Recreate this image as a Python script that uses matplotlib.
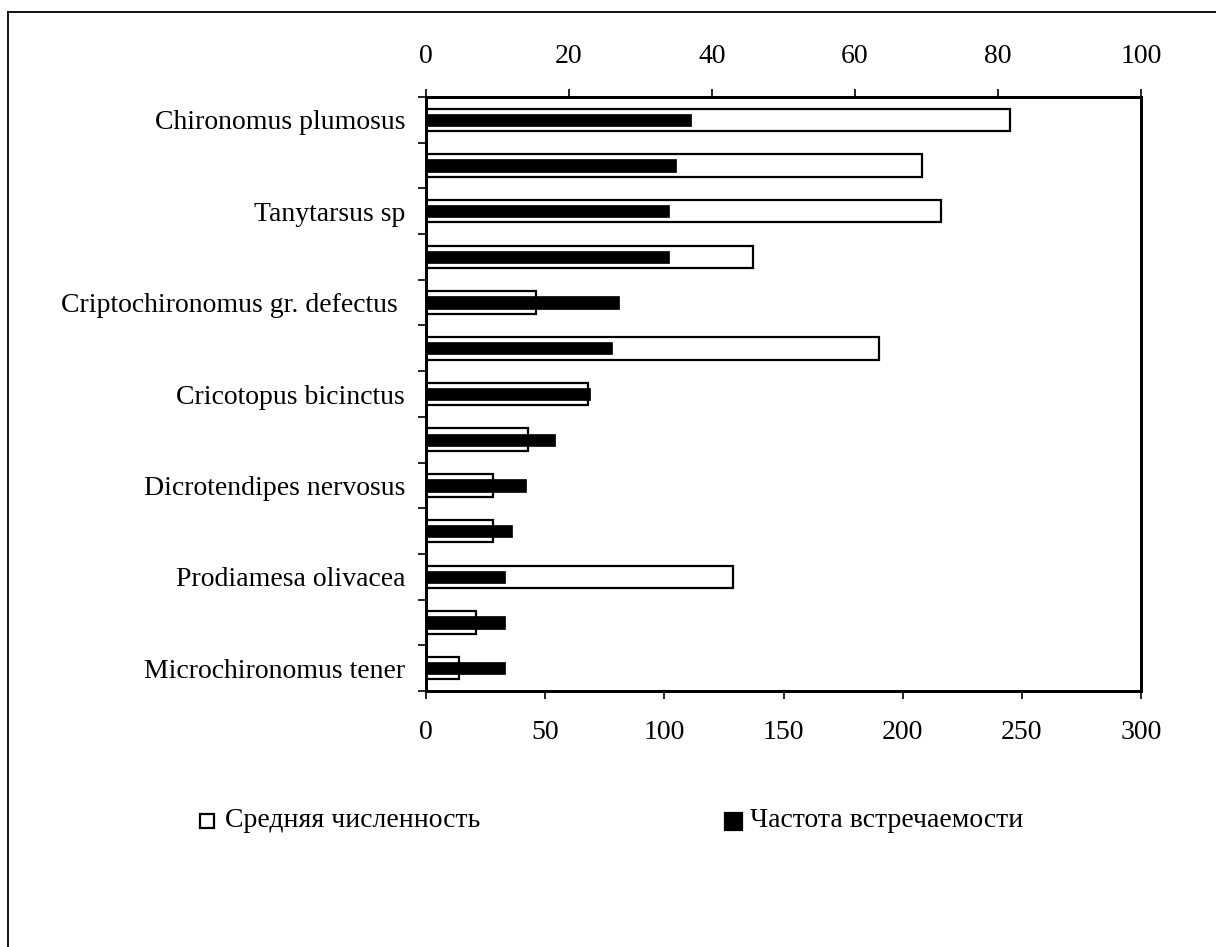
import matplotlib
matplotlib.use("Agg")
import matplotlib.pyplot as plt
from matplotlib.lines import Line2D
from matplotlib.patches import Rectangle
import numpy as np

plt.rcParams["font.family"] = ["Liberation Serif", "DejaVu Serif"]

# Chironomid taxa, top to bottom (only every other row carries a label)
species = [
    "Chironomus plumosus", "", "Tanytarsus sp", "",
    "Criptochironomus gr. defectus ", "", "Cricotopus bicinctus", "",
    "Dicrotendipes nervosus", "", "Prodiamesa olivacea", "",
    "Microchironomus tener",
]
# mean abundance (bottom axis, 0-300)
mean_abundance = [245, 208, 216, 137, 46, 190, 68, 43, 28, 28, 129, 21, 14]
# frequency of occurrence, % (top axis, 0-100)
occurrence = [37, 35, 34, 34, 27, 26, 23, 18, 14, 12, 11, 11, 11]

bottom_ticks = [0, 50, 100, 150, 200, 250, 300]
top_ticks = [0, 20, 40, 60, 80, 100]

legend_labels = ["Средняя численность", "Частота встречаемости"]

W, H = 1216, 947
fig = plt.figure(figsize=(W / 100, H / 100), dpi=100)
fig.patch.set_facecolor("white")

x0, x1, y0, y1 = 426, 1141, 97, 691
ax = fig.add_axes([x0 / W, 1 - y1 / H, (x1 - x0) / W, (y1 - y0) / H])

y = np.arange(len(species))
ax.barh(y, mean_abundance, height=0.49, color="white", edgecolor="black",
        linewidth=1.6, zorder=2)
ax.set_xlim(0, 300)
ax.set_xticks(bottom_ticks)
ax.set_ylim(len(species) - 0.5, -0.5)

# category boundaries carry the tick marks, centres carry the labels
ax.set_yticks(np.arange(-0.5, len(species), 1.0))
ax.set_yticklabels([])
ax.set_yticks(y, minor=True)
ax.set_yticklabels(species, minor=True)
ax.tick_params(axis="y", which="major", direction="out", length=6, width=1.2)
ax.tick_params(axis="y", which="minor", length=0, pad=15, labelsize=20)
ax.tick_params(axis="x", direction="out", length=6, width=1.2,
               labelsize=20, pad=15)

ax2 = ax.twiny()
ax2.barh(y, occurrence, height=0.27, color="black", edgecolor="black",
         linewidth=0.5, zorder=3)
ax2.set_xlim(0, 100)
ax2.set_xticks(top_ticks)
ax2.set_ylim(len(species) - 0.5, -0.5)
ax2.tick_params(axis="x", direction="out", length=6, width=1.2,
                labelsize=20, pad=14)

for a in (ax, ax2):
    for s in a.spines.values():
        s.set_linewidth(2.0)

# legend entries: (box left, box top, box size, fill, text left, label)
items = [
    (200, 814, 14, "white", 225, legend_labels[0]),
    (725, 813, 17, "black", 750, legend_labels[1]),
]
for bx, by, bs, fc, tx, txt in items:
    fig.patches.append(Rectangle((bx / W, 1 - (by + bs) / H), bs / W, bs / H,
                                 transform=fig.transFigure, facecolor=fc,
                                 edgecolor="black", linewidth=1.6))
    fig.text(tx / W, 1 - 820 / H, txt, fontsize=20, va="center", ha="left")

# outer frame
fx, fy = 8 / W, 1 - 12 / H
fig.add_artist(Line2D([fx, fx], [0, fy], transform=fig.transFigure,
                      color="black", linewidth=1.3))
fig.add_artist(Line2D([fx, 1], [fy, fy], transform=fig.transFigure,
                      color="black", linewidth=1.3))

fig.savefig("out.png", dpi=100)
